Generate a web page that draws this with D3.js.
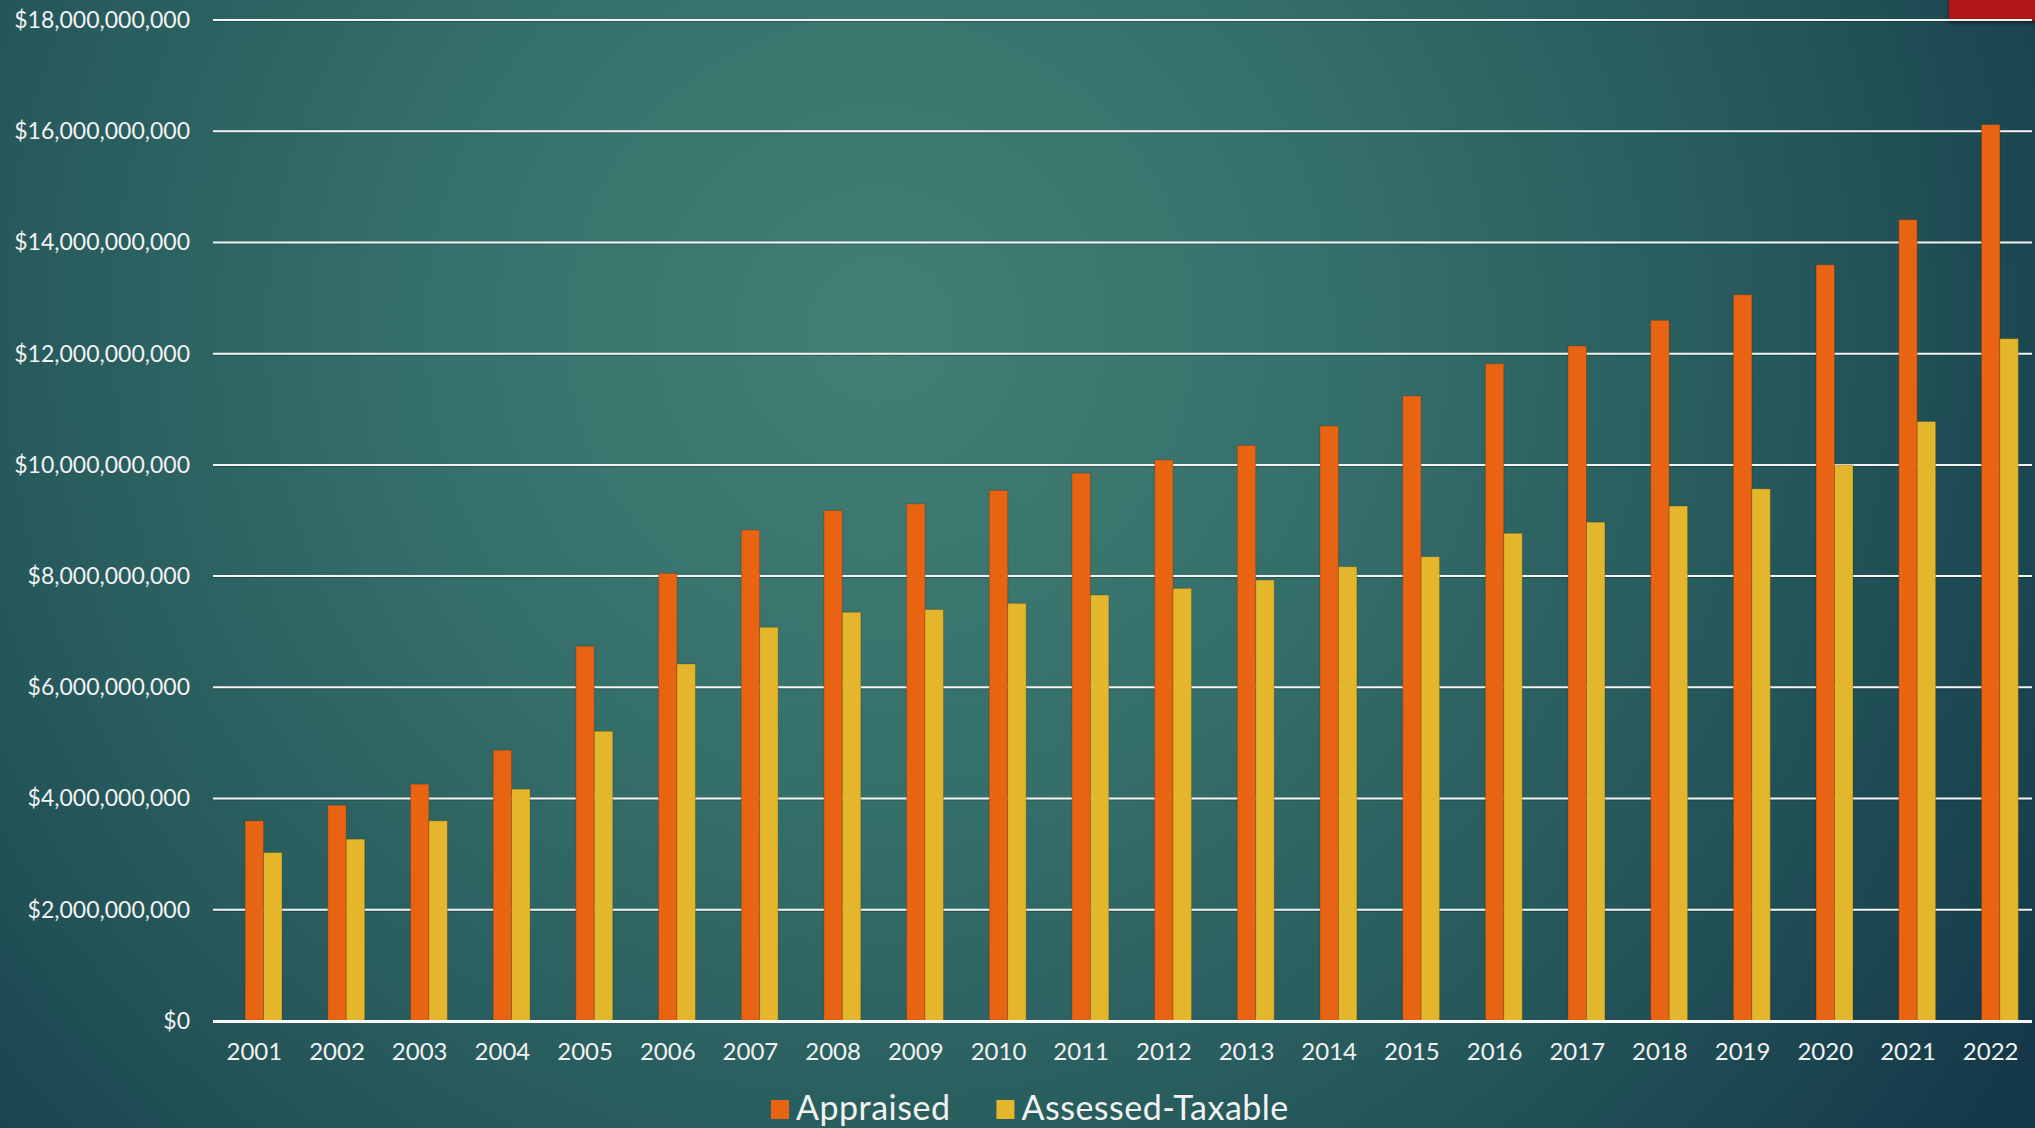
<!DOCTYPE html>
<html>
<head>
<meta charset="utf-8">
<script src="https://cdn.jsdelivr.net/npm/d3@7"></script>
<style>
    html, body { margin: 0; padding: 0; overflow: hidden; background: #1d4a52; }
    svg { display: block; }
    text { font-family: Lato, "Open Sans", sans-serif; fill: #f2f2f2; }
</style>
</head>
<body>
<div id="chart"></div>
<script>
var years = ["2001", "2002", "2003", "2004", "2005", "2006", "2007", "2008", "2009", "2010", "2011",
    "2012", "2013", "2014", "2015", "2016", "2017", "2018", "2019", "2020", "2021", "2022"];
// values in billions of dollars
var appraised = [3.60, 3.88, 4.26, 4.87, 6.74, 8.05, 8.83, 9.18, 9.30, 9.54, 9.85,
    10.09, 10.35, 10.70, 11.24, 11.82, 12.14, 12.60, 13.06, 13.60, 14.41, 16.12];
var assessedTaxable = [3.03, 3.27, 3.60, 4.17, 5.21, 6.42, 7.08, 7.35, 7.40, 7.51, 7.66,
    7.78, 7.93, 8.17, 8.35, 8.77, 8.97, 9.26, 9.57, 10.00, 10.78, 12.27];
var seriesNames = ["Appraised", "Assessed-Taxable"];
var seriesColors = ["#e86413", "#e4b62b"];
var yTicks = [0, 2, 4, 6, 8, 10, 12, 14, 16, 18];

function plot() {
    var width = 2035;
    var height = 1128;
    var left = 213, right = 2032, top = 20, bottom = 1021;

    var svg = d3.select("#chart")
        .append("svg")
        .attr("width", width)
        .attr("height", height);

    var defs = svg.append("defs");
    var grad = defs.append("radialGradient")
        .attr("id", "bg")
        .attr("gradientUnits", "userSpaceOnUse")
        .attr("cx", 880).attr("cy", 330).attr("r", 1350);
    grad.append("stop").attr("offset", 0).attr("stop-color", "#437f75");
    grad.append("stop").attr("offset", 0.35).attr("stop-color", "#356f6a");
    grad.append("stop").attr("offset", 0.7).attr("stop-color", "#245659");
    grad.append("stop").attr("offset", 1).attr("stop-color", "#15394a");

    var shadow = defs.append("filter").attr("id", "shadow")
        .attr("x", "-20%").attr("y", "-20%").attr("width", "140%").attr("height", "180%");
    shadow.append("feDropShadow")
        .attr("dx", 0).attr("dy", 2).attr("stdDeviation", 2.5)
        .attr("flood-color", "#000").attr("flood-opacity", 0.5);

    svg.append("rect")
        .attr("width", width)
        .attr("height", height)
        .style("fill", "url(#bg)");

    // red corner tab
    svg.append("rect")
        .attr("x", 1949).attr("y", -5)
        .attr("width", 90).attr("height", 25.5)
        .style("fill", "#b21815")
        .attr("filter", "url(#shadow)");

    var y = d3.scaleLinear()
        .domain([0, 18])
        .range([bottom, top]);

    var x = d3.scaleBand()
        .domain(years)
        .range([left, right])
        .paddingInner(0.33)
        .paddingOuter(0.165);

    // three slots per year, the first one stays empty like in the original chart
    var x1 = d3.scaleBand()
        .domain(["", seriesNames[0], seriesNames[1]])
        .range([0, x.bandwidth()]);

    // gridlines
    var grid = svg.append("g");
    grid.selectAll("line.shade")
        .data(yTicks.slice(1))
        .enter()
        .append("line")
        .attr("class", "shade")
        .attr("x1", left).attr("x2", right)
        .attr("y1", function (d) { return y(d) + 1.5; })
        .attr("y2", function (d) { return y(d) + 1.5; })
        .style("stroke", "#000")
        .style("stroke-opacity", 0.25)
        .style("stroke-width", 1);
    grid.selectAll("line.main")
        .data(yTicks.slice(1))
        .enter()
        .append("line")
        .attr("class", "main")
        .attr("x1", left).attr("x2", right)
        .attr("y1", function (d) { return y(d); })
        .attr("y2", function (d) { return y(d); })
        .style("stroke", "#f4f4f4")
        .style("stroke-width", 2);

    // y axis labels
    var fmt = d3.format(",");
    var yAxis = svg.append("g")
        .attr("transform", "translate(" + left + ",0)")
        .call(d3.axisLeft(y)
            .tickValues(yTicks)
            .tickSize(0)
            .tickPadding(23)
            .tickFormat(function (d) { return "$" + fmt(d * 1e9); }));
    yAxis.select(".domain").remove();
    yAxis.selectAll("text")
        .attr("font-size", 23)
        .attr("font-family", "Lato, sans-serif")
        .style("fill", "#f2f2f2");

    // bars
    var rows = years.map(function (yr, i) {
        return {year: yr, values: [appraised[i], assessedTaxable[i]]};
    });
    var groups = svg.selectAll("g.year")
        .data(rows)
        .enter()
        .append("g")
        .attr("class", "year")
        .attr("transform", function (d) { return "translate(" + x(d.year) + ",0)"; });
    groups.selectAll("rect")
        .data(function (d) {
            return d.values.map(function (v, k) { return {name: seriesNames[k], value: v, k: k}; });
        })
        .enter()
        .append("rect")
        .attr("x", function (d) { return x1(d.name); })
        .attr("width", x1.bandwidth())
        .attr("y", function (d) { return y(d.value); })
        .attr("height", function (d) { return y(0) - y(d.value); })
        .style("fill", function (d) { return seriesColors[d.k]; })
        .style("stroke", "#000")
        .style("stroke-opacity", 0.18)
        .style("stroke-width", 1);

    // zero line
    svg.append("line")
        .attr("x1", left).attr("x2", right)
        .attr("y1", y(0) + 0.5).attr("y2", y(0) + 0.5)
        .style("stroke", "#f8f8f8")
        .style("stroke-width", 3);

    // x axis labels
    var xAxis = svg.append("g")
        .attr("transform", "translate(0," + bottom + ")")
        .call(d3.axisBottom(x).tickSize(0).tickPadding(22));
    xAxis.select(".domain").remove();
    xAxis.selectAll("text")
        .attr("font-size", 24)
        .attr("font-family", "Lato, sans-serif")
        .style("fill", "#f2f2f2");

    // legend
    var legend = svg.append("g").attr("transform", "translate(771,1120)");
    var lx = 0;
    seriesNames.forEach(function (name, k) {
        legend.append("rect")
            .attr("x", lx).attr("y", -20)
            .attr("width", 18).attr("height", 19)
            .style("fill", seriesColors[k]);
        var t = legend.append("text")
            .attr("x", lx + 25)
            .attr("y", 0)
            .attr("font-size", 34)
            .attr("letter-spacing", 0.5)
            .text(name);
        lx = lx + 25 + t.node().getComputedTextLength() + 46;
    });
}

plot();
</script>
</body>
</html>
